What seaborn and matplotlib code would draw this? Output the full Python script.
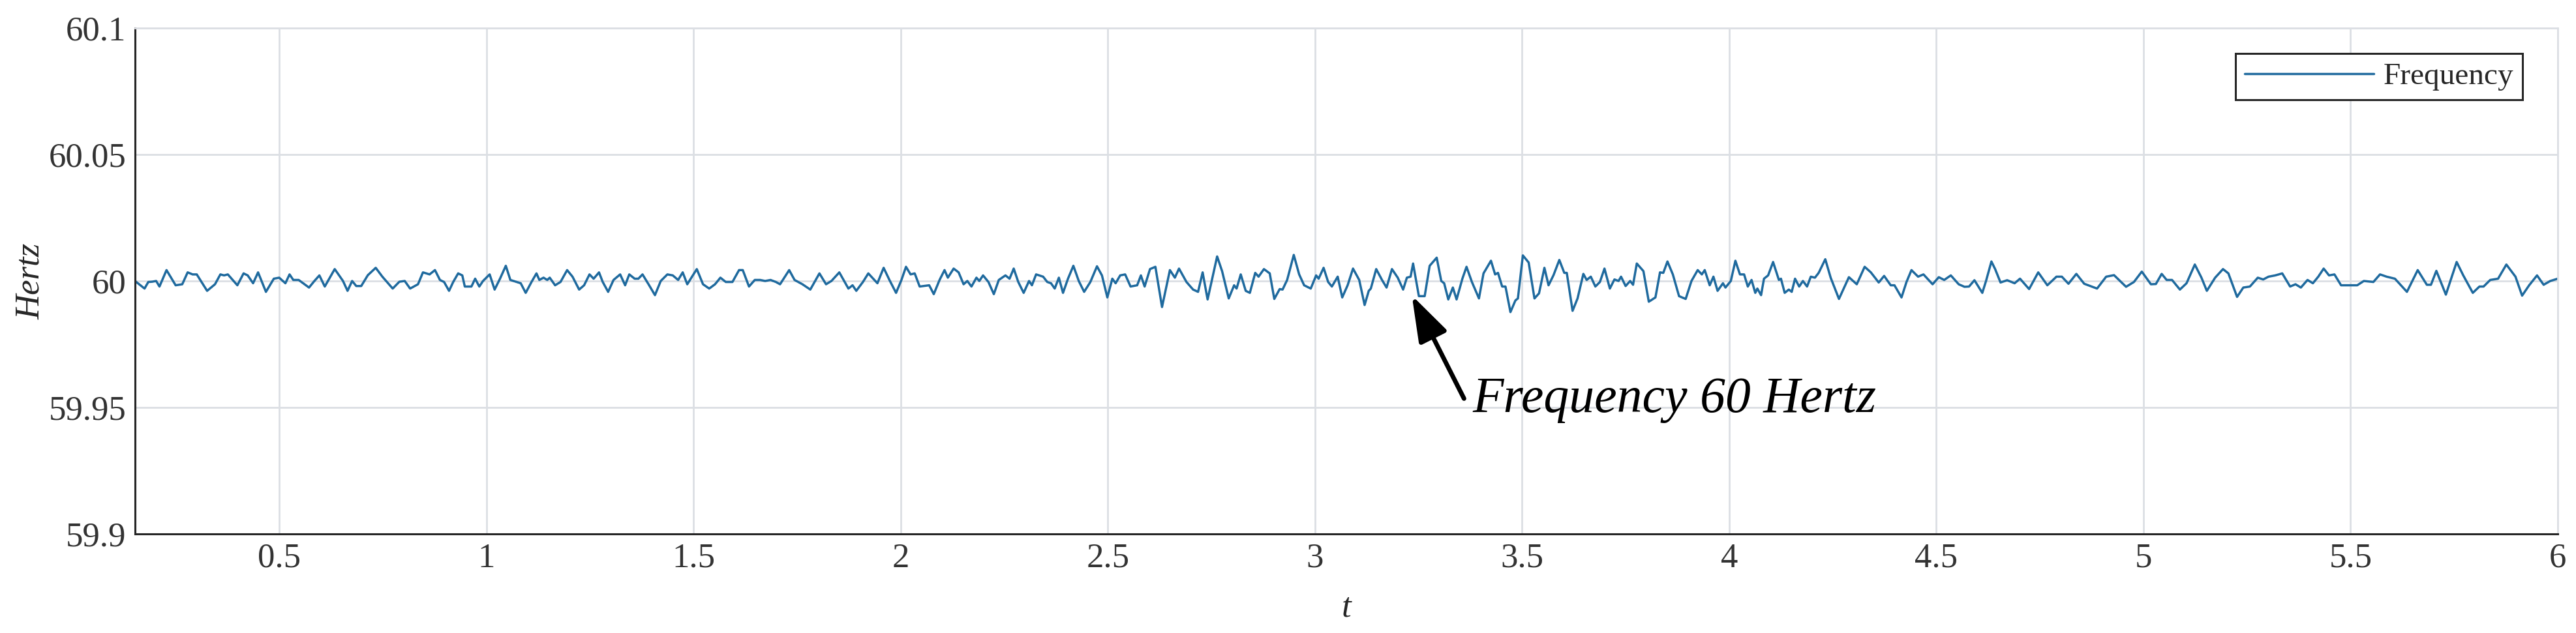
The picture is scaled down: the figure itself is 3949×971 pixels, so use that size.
import numpy as np
import pandas as pd
import matplotlib
matplotlib.use("Agg")
import matplotlib.pyplot as plt
import seaborn as sns

# Frequency trace: time (s) and deviation from 60 Hz (mHz),
# one pair of lists per second of record
t_a = [0.152,0.165,0.175,0.184,0.193,0.203,0.211,0.228,0.250,0.266,0.279,0.291,0.301,0.326,0.345,
       0.358,0.367,0.376,0.399,0.414,0.424,0.437,0.449,0.468,0.487,0.500,0.515,0.525,0.534,0.547,
       0.572,0.585,0.597,0.610,0.634,0.654,0.665,0.676,0.686,0.698,0.714,0.733,0.749,0.774,0.790,
       0.803,0.816,0.835,0.847,0.863,0.876,0.888,0.898,0.910,0.920,0.932,0.942,0.948,0.964,0.973,
       0.983,0.992,1.008,1.020,1.033,1.047,1.058,1.083,1.095,1.109,1.121]
dev_a = [0.0,-1.7,-3.0,-0.4,-0.3,0.0,-2.2,4.3,-1.7,-1.3,3.4,2.6,2.6,-3.9,-1.3,
         2.6,2.2,2.6,-1.7,3.0,2.2,-0.9,3.4,-4.3,0.9,1.3,-0.9,2.6,0.4,0.4,
         -2.6,0.0,2.2,-2.2,4.7,0.0,-3.9,0.0,-2.0,-2.0,2.3,5.2,1.7,-3.0,-0.3,
         0.0,-3.0,-1.3,3.4,2.6,4.3,0.4,-0.4,-3.9,-0.4,3.0,2.2,-2.2,-2.2,0.9,
         -2.2,0.0,2.6,-3.4,0.9,6.0,0.4,-0.9,-4.7,-0.4,3.0]

t_b = [1.128,1.138,1.147,1.153,1.166,1.179,1.195,1.208,1.224,1.236,1.249,1.259,1.272,1.281,1.294,
       1.307,1.323,1.335,1.345,1.358,1.367,1.377,1.393,1.407,1.421,1.437,1.450,1.463,1.474,1.485,
       1.508,1.523,1.538,1.552,1.565,1.578,1.594,1.610,1.619,1.634,1.648,1.661,1.673,1.686,1.699,
       1.709,1.731,1.744,1.763,1.782,1.804,1.820,1.833,1.852,1.874,1.884,1.893,1.909,1.922,1.944,
       1.959,1.973,1.989,2.002,2.013,2.024,2.034,2.046,2.069,2.080,2.094]
dev_b = [0.4,1.3,0.4,1.3,-1.7,-0.4,4.3,1.7,-3.4,-1.7,2.6,0.9,3.4,-0.4,-4.3,
         0.4,2.6,-1.7,2.6,0.9,0.9,2.6,-1.7,-5.6,0.0,2.6,2.2,0.4,3.4,-1.3,
         4.7,-1.3,-3.0,-1.3,1.3,-0.4,-0.4,4.3,4.3,-2.2,0.4,0.4,0.0,0.4,-0.4,
         -1.3,4.3,0.4,-1.3,-3.4,3.0,-1.3,0.0,3.4,-3.0,-1.7,-3.9,-0.4,3.0,-0.9,
         5.2,0.4,-4.7,0.4,5.6,2.6,3.0,-2.2,-1.7,-5.2,0.4]

t_c = [2.106,2.114,2.128,2.140,2.152,2.161,2.171,2.183,2.190,2.199,2.212,2.225,2.237,2.253,2.263,
       2.273,2.284,2.297,2.310,2.317,2.327,2.344,2.354,2.363,2.372,2.382,2.392,2.404,2.417,2.430,
       2.443,2.458,2.474,2.486,2.499,2.511,2.519,2.530,2.542,2.555,2.571,2.580,2.589,2.602,2.615,
       2.631,2.650,2.662,2.672,2.690,2.706,2.718,2.729,2.741,2.764,2.776,2.792,2.805,2.811,2.821,
       2.833,2.843,2.856,2.864,2.877,2.891,2.902,2.915,2.922,2.933,2.949,2.962,2.974,2.990,3.003,
       3.009,3.021,3.032,3.041,3.055]
dev_c = [4.3,1.3,4.9,3.4,-1.3,0.0,-2.2,1.3,0.0,2.2,-0.4,-5.2,0.4,2.2,0.9,
         4.9,-0.4,-4.7,0.0,-1.7,2.6,1.7,-0.4,-0.9,-3.0,1.3,-4.7,0.9,6.0,0.0,
         -4.3,-0.4,5.8,2.2,-6.5,0.9,-0.9,2.2,2.6,-2.2,-1.7,2.2,-2.2,4.7,5.6,
         -10.3,4.3,1.3,4.9,-0.4,-3.4,-4.3,3.4,-7.3,9.7,3.9,-6.9,-1.7,-3.0,2.6,
         -3.9,-4.7,3.2,1.7,4.7,3.0,-7.1,-3.2,-3.4,0.4,10.3,2.6,-1.7,-3.0,2.2,
         0.9,5.2,-0.4,-2.2,1.7]

t_d = [3.066,3.079,3.092,3.107,3.120,3.130,3.135,3.148,3.162,3.173,3.186,3.200,3.213,3.222,3.231,
       3.237,3.251,3.265,3.277,3.294,3.305,3.312,3.322,3.333,3.342,3.356,3.366,3.379,3.396,3.407,
       3.425,3.435,3.442,3.452,3.460,3.472,3.484,3.490,3.502,3.516,3.530,3.541,3.554,3.564,3.576,
       3.590,3.602,3.608,3.622,3.634,3.648,3.656,3.666,3.677,3.688,3.699,3.712,3.723,3.733,3.739,
       3.750,3.761,3.768,3.777,3.793,3.806,3.822,3.833,3.841,3.851,3.864,3.879,3.895,3.909,3.924,
       3.934,3.941,3.953,3.962,3.972,3.985,3.991,4.004,4.015,4.026,4.036,4.045,4.054,4.063]
dev_d = [-6.5,-1.7,4.9,0.4,-9.5,-3.9,-3.0,4.7,0.4,-2.6,4.7,1.3,-3.4,1.3,1.7,
         6.9,-6.0,-6.0,6.0,9.2,0.0,-0.9,-7.3,-2.6,-7.3,0.9,5.6,-0.4,-6.9,3.0,
         8.0,2.6,3.2,-2.2,-2.2,-12.3,-7.7,-6.9,10.1,7.3,-6.9,-4.9,5.2,-1.7,2.3,
         8.3,3.2,3.2,-11.8,-6.9,2.8,0.4,1.7,-2.2,-0.4,4.9,-3.0,0.6,0.0,1.7,
         -2.0,0.0,-1.5,6.9,3.9,-8.2,-6.5,3.4,3.2,7.7,2.6,-6.0,-7.1,0.0,4.3,
         2.6,4.3,-1.7,1.7,-3.9,-0.9,-2.6,0.0,8.0,2.6,2.6,-2.2,0.4,-4.7]

t_e = [4.068,4.077,4.084,4.094,4.106,4.120,4.125,4.134,4.144,4.151,4.159,4.169,4.178,4.188,4.197,
       4.207,4.216,4.232,4.245,4.265,4.289,4.308,4.327,4.342,4.361,4.374,4.390,4.399,4.416,4.428,
       4.440,4.456,4.469,4.491,4.506,4.519,4.535,4.554,4.568,4.579,4.592,4.611,4.620,4.633,4.642,
       4.655,4.671,4.689,4.702,4.724,4.746,4.768,4.790,4.803,4.819,4.838,4.857,4.888,4.910,4.929,
       4.958,4.977,4.996,5.018]
dev_e = [-3.0,-5.6,0.9,2.2,7.5,0.4,0.9,-4.7,-3.4,-4.3,0.9,-2.2,0.0,-2.2,1.7,
         1.3,3.2,8.6,1.3,-7.1,1.5,-1.3,5.6,3.4,-0.6,2.0,-1.7,-1.7,-6.5,-0.4,
         4.3,1.7,2.6,-1.3,1.5,0.4,2.2,-1.3,-2.3,-2.2,0.3,-4.7,0.0,7.7,4.7,
         -0.6,0.3,-0.9,0.9,-3.2,3.4,-1.7,1.7,1.7,-1.1,2.8,-1.1,-3.0,1.7,2.3,
         -2.3,-0.4,3.7,-1.3]

t_f = [5.030,5.044,5.056,5.069,5.088,5.104,5.124,5.140,5.153,5.173,5.192,5.205,5.226,5.241,5.257,
       5.276,5.289,5.302,5.318,5.335,5.354,5.367,5.380,5.396,5.409,5.422,5.435,5.448,5.461,5.477,
       5.516,5.532,5.555,5.571,5.587,5.607,5.636,5.662,5.684,5.694,5.707,5.730,5.756,5.772,5.795,
       5.811,5.821,5.837,5.856,5.876,5.898,5.914,5.931,5.950,5.966,5.982,6.000]
dev_f = [-1.2,2.8,0.4,0.4,-3.4,-0.9,6.5,1.3,-3.9,1.3,4.7,3.0,-6.3,-2.6,-2.2,
         1.3,0.6,1.7,2.2,3.0,-2.2,-1.3,-2.6,0.4,-0.9,1.7,4.9,2.2,2.6,-1.7,
         -1.7,0.0,-0.4,2.6,1.7,0.9,-4.3,4.3,-1.5,-1.5,4.0,-5.4,7.5,2.2,-4.7,
         -2.2,-2.2,0.4,0.9,6.5,1.7,-5.8,-1.7,2.2,-1.5,0.0,0.9]

y_ticks = [59.9, 59.95, 60.0, 60.05, 60.1]
y_ticklabels = ["59.9", "59.95", "60", "60.05", "60.1"]
x_ticks = [0.5, 1, 1.5, 2, 2.5, 3, 3.5, 4, 4.5, 5, 5.5, 6]
x_ticklabels = ["0.5", "1", "1.5", "2", "2.5", "3", "3.5", "4", "4.5", "5", "5.5", "6"]

segments = [(t_a, dev_a), (t_b, dev_b), (t_c, dev_c), (t_d, dev_d), (t_e, dev_e), (t_f, dev_f)]
df = pd.concat([pd.DataFrame({"t": t, "dev": d}) for t, d in segments], ignore_index=True)
df["freq"] = 60.0 + df["dev"] / 1000.0

sns.set_theme(style="white")
plt.rcParams["font.family"] = ["Liberation Serif", "DejaVu Serif"]
dark = "#262626"
gridc = "#dcdfe4"

fig = plt.figure(figsize=(39.49, 9.71), dpi=100)
ax = fig.add_axes([207 / 3949, 1 - 819 / 971, (3921 - 207) / 3949, (819 - 43) / 971])

sns.lineplot(data=df, x="t", y="freq", ax=ax, color="#1f6a9e", linewidth=2.5,
             estimator=None, label="Frequency")

ax.set_xlim(0.152, 6)
ax.set_ylim(59.9, 60.1)
ax.set_xticks(x_ticks)
ax.set_xticklabels(x_ticklabels)
ax.set_yticks(y_ticks)
ax.set_yticklabels(y_ticklabels)
ax.grid(True, color=gridc, linewidth=2)
ax.set_axisbelow(True)

for side in ["left", "bottom"]:
    ax.spines[side].set_color(dark)
    ax.spines[side].set_linewidth(2.2)
for side in ["top", "right"]:
    ax.spines[side].set_color(gridc)
    ax.spines[side].set_linewidth(2)

ax.tick_params(axis="both", direction="in", length=26.6, width=2.2, color=dark,
               labelcolor="#333333", labelsize=38)
ax.tick_params(axis="x", pad=10)
ax.tick_params(axis="y", pad=10)
ax.tick_params(top=False, right=False)

ax.set_xlabel("t", fontsize=38, fontstyle="italic", color=dark)
ax.set_ylabel("Hertz", fontsize=38, fontstyle="italic", color=dark)
ax.xaxis.set_label_coords(0.5, -0.146)
ax.xaxis.label.set_va("center")
ax.yaxis.set_label_coords(-0.043, 0.5)
ax.yaxis.label.set_va("center")

leg = ax.legend(loc="upper right", bbox_to_anchor=(0.9855, 0.9497), fontsize=34,
                frameon=True, fancybox=False, framealpha=1, edgecolor=dark,
                handlelength=4.2, handletextpad=0.3, borderpad=0.3, borderaxespad=0)
leg.get_frame().set_linewidth(2.2)
for txt in leg.get_texts():
    txt.set_color(dark)

ax.annotate("", xy=(3.234, 59.9943), xytext=(3.36, 59.9535),
            arrowprops=dict(arrowstyle="-|>,head_length=0.9,head_width=0.3",
                            mutation_scale=48, lw=5, color="black",
                            shrinkA=0, shrinkB=0))
ax.text(3.380, 59.953, "Frequency 60 Hertz", fontsize=56, fontstyle="italic",
        va="center", ha="left", color="black")

fig.savefig("out.png", dpi=100)
